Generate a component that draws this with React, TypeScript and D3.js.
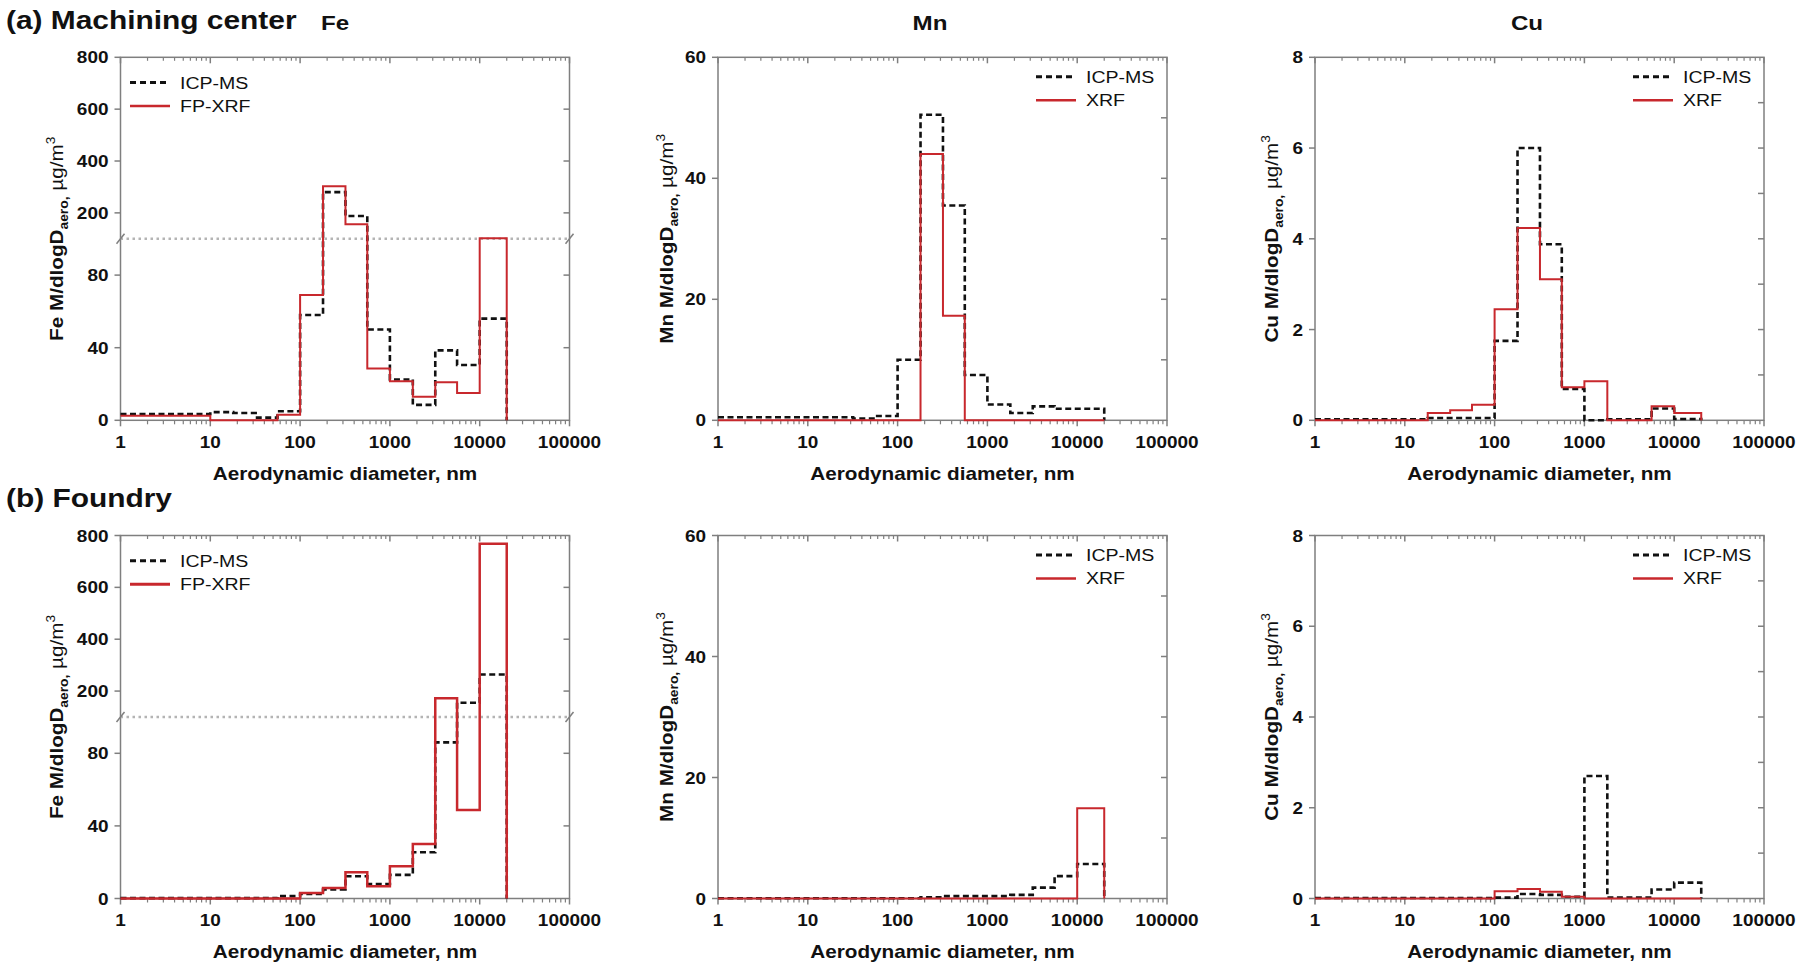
import React from "react";
import * as d3 from "d3";

// stage cut points, nm (last stage ends at 20000)
const edges = [1, 10, 18, 32, 56, 100, 180, 320, 560, 1000, 1800, 3200, 5600, 10000, 20000];

// (a) Machining center
const feA_icp = [3.5, 4.5, 4, 1.5, 5, 58, 280, 188, 50, 22.5, 8.5, 38.5, 30.5, 56];
const feA_xrf = [2.5, 0, 0, 0, 3, 69, 303, 156, 28.5, 21.5, 13, 21, 15, 102];
const mnA_icp = [0.5, 0.5, 0.5, 0.3, 0.7, 10, 50.5, 35.5, 7.5, 2.6, 1.2, 2.3, 1.9, 1.9];
const mnA_xrf = [0, 0, 0, 0, 0, 0, 44, 17.3, 0, 0, 0, 0, 0, 0];
const cuA_icp = [0.02, 0.02, 0.05, 0.05, 0.05, 1.75, 6.0, 3.88, 0.69, 0, 0.02, 0.02, 0.26, 0.03];
const cuA_xrf = [0, 0, 0.16, 0.22, 0.34, 2.45, 4.24, 3.11, 0.73, 0.86, 0, 0, 0.31, 0.16];

// (b) Foundry
const feB_icp = [0.2, 0.2, 0.2, 0.3, 1.3, 2.5, 5, 12.3, 8, 13, 25.5, 86, 155, 264];
const feB_xrf = [0, 0, 0, 0, 0, 3, 5.8, 14.5, 6.8, 17.8, 30, 172, 48.7, 768];
const mnB_icp = [0.05, 0.05, 0.05, 0.05, 0.05, 0.05, 0.2, 0.4, 0.4, 0.4, 0.6, 1.8, 3.7, 5.7];
const mnB_xrf = [0, 0, 0, 0, 0, 0, 0, 0, 0, 0, 0, 0, 0, 14.9];
const cuB_icp = [0.01, 0.01, 0.01, 0.01, 0.01, 0.02, 0.1, 0.08, 0.04, 2.7, 0.02, 0.02, 0.2, 0.35];
const cuB_xrf = [0, 0, 0, 0, 0, 0.16, 0.21, 0.15, 0.04, 0, 0, 0, 0, 0];

const xTicks = [1, 10, 100, 1000, 10000, 100000];
const feTicks = [0, 40, 80, 200, 400, 600, 800];
const feRight = [40, 80, 200, 400, 600];
const mnTicks = [0, 20, 40, 60];
const mnRight = [10, 20, 30, 40, 50];
const cuTicks = [0, 2, 4, 6, 8];
const cuRight = [1, 2, 3, 4, 5, 6, 7];

const FONT = "'Liberation Sans', Arial, sans-serif";
const SX = 1.15; // reference text is a bit wide
const RED = "#c8282d";
const GRAY = "#7f7f7f";
const W = 449;
const H = 363;

function T({ x, y, size, weight = "bold", anchor = "start", rotate = 0, children }: any) {
  return (
    <text
      transform={`translate(${x},${y}) rotate(${rotate}) scale(${SX},1)`}
      fontSize={size}
      fontWeight={weight}
      textAnchor={anchor}
      fontFamily={FONT}
      fill="#111"
    >
      {children}
    </text>
  );
}

type PanelProps = {
  x0: number;
  y0: number;
  el: string;
  kind: "fe" | "mn" | "cu";
  icp: number[];
  xrf: number[];
  xrfName: string;
  labelOff: number;
  redWidth: number;
};

function Panel({ x0, y0, el, kind, icp, xrf, xrfName, labelOff, redWidth }: PanelProps) {
  const x = d3.scaleLog().domain([1, 100000]).range([0, W]);
  const y =
    kind === "fe"
      ? d3.scaleLinear().domain([0, 100, 800]).range([H, H / 2, 0])
      : d3.scaleLinear().domain([0, kind === "mn" ? 60 : 8]).range([H, 0]);
  const ticks = kind === "fe" ? feTicks : kind === "mn" ? mnTicks : cuTicks;
  const right = kind === "fe" ? feRight : kind === "mn" ? mnRight : cuRight;

  const minor: number[] = [];
  for (let d = 1; d < 100000; d *= 10) for (let k = 2; k < 10; k++) minor.push(d * k);

  const step = (vals: number[]) => {
    const pts: [number, number][] = edges.map((e, i) => [x(e), y(i < vals.length ? vals[i] : 0)]);
    return d3.line().curve(d3.curveStepAfter)(pts) || "";
  };

  const legLeft = kind === "fe";
  const lx = legLeft ? 9.5 : 318;
  const ly = legLeft ? 25.3 : 19.4;

  return (
    <g transform={`translate(${x0},${y0})`}>
      {/* frame */}
      <rect x={0} y={0} width={W} height={H} fill="none" stroke={GRAY} strokeWidth={1.5} />
      {/* x ticks */}
      {xTicks.map((t) => (
        <g key={"xt" + t}>
          <line x1={x(t)} x2={x(t)} y1={H} y2={H + 6} stroke={GRAY} strokeWidth={1.5} />
          <line x1={x(t)} x2={x(t)} y1={0} y2={6} stroke={GRAY} strokeWidth={1.5} />
          <T x={x(t)} y={H + 27.5} size={16.5} anchor="middle">{t}</T>
        </g>
      ))}
      {minor.map((t) => (
        <g key={"xm" + t}>
          <line x1={x(t)} x2={x(t)} y1={H} y2={H + 4} stroke={GRAY} strokeWidth={1.2} />
          <line x1={x(t)} x2={x(t)} y1={0} y2={3.5} stroke={GRAY} strokeWidth={1.2} />
        </g>
      ))}
      {/* y ticks */}
      {ticks.map((t) => (
        <g key={"yt" + t}>
          <line x1={-6} x2={0} y1={y(t)} y2={y(t)} stroke={GRAY} strokeWidth={1.5} />
          <T x={-12} y={y(t) + 6} size={16.5} anchor="end">{t}</T>
        </g>
      ))}
      {right.map((t) => (
        <line key={"yr" + t} x1={W - 6} x2={W} y1={y(t)} y2={y(t)} stroke={GRAY} strokeWidth={1.5} />
      ))}
      {/* axis break */}
      {kind === "fe" && (
        <g>
          <line x1={0} x2={W} y1={y(100)} y2={y(100)} stroke="#b4b4b4" strokeWidth={2.5} strokeDasharray="2.5,3.5" />
          <line x1={-4} x2={4} y1={y(100) + 5} y2={y(100) - 5} stroke={GRAY} strokeWidth={1.5} />
          <line x1={W - 4} x2={W + 4} y1={y(100) + 5} y2={y(100) - 5} stroke={GRAY} strokeWidth={1.5} />
        </g>
      )}
      {/* data */}
      <path d={step(icp)} fill="none" stroke="#111" strokeWidth={2.6} strokeDasharray="6,3.5" />
      <path d={step(xrf)} fill="none" stroke={RED} strokeWidth={redWidth} />
      {/* legend */}
      <line x1={lx} x2={lx + 40} y1={ly} y2={ly} stroke="#111" strokeWidth={3} strokeDasharray="6,4" />
      <T x={lx + 50} y={ly + 6} size={17} weight="normal">ICP-MS</T>
      <line x1={lx} x2={lx + 40} y1={ly + 23.5} y2={ly + 23.5} stroke={RED} strokeWidth={redWidth + 0.5} />
      <T x={lx + 50} y={ly + 29.5} size={17} weight="normal">{xrfName}</T>
      {/* axis titles */}
      <T x={W / 2} y={H + 59.5} size={18} anchor="middle">Aerodynamic diameter, nm</T>
      <T x={-labelOff} y={H / 2} size={18} anchor="middle" rotate={-90}>
        <tspan>{el} M/dlogD</tspan>
        <tspan fontSize={12} dy={5}>aero,</tspan>
        <tspan fontWeight="normal" dy={-5}> µg/m</tspan>
        <tspan fontWeight="normal" fontSize={12} dy={-8}>3</tspan>
      </T>
    </g>
  );
}

export default function App() {
  const xs = [120.5, 718, 1315];
  const ya = 57.3;
  const yb = 535.5;
  return (
    <div>
      <style>{`body{margin:0;background:#fff}`}</style>
      <svg width={1800} height={970} style={{ display: "block" }}>
        <rect width={1800} height={970} fill="#fff" />
        <T x={6} y={29} size={26}>(a) Machining center</T>
        <T x={335} y={30} size={21} anchor="middle">Fe</T>
        <T x={930} y={30} size={21} anchor="middle">Mn</T>
        <T x={1527} y={30} size={21} anchor="middle">Cu</T>
        <T x={6} y={507} size={26}>(b) Foundry</T>

        <Panel x0={xs[0]} y0={ya} el="Fe" kind="fe" icp={feA_icp} xrf={feA_xrf} xrfName="FP-XRF" labelOff={57.5} redWidth={2} />
        <Panel x0={xs[1]} y0={ya} el="Mn" kind="mn" icp={mnA_icp} xrf={mnA_xrf} xrfName="XRF" labelOff={45} redWidth={2} />
        <Panel x0={xs[2]} y0={ya} el="Cu" kind="cu" icp={cuA_icp} xrf={cuA_xrf} xrfName="XRF" labelOff={37} redWidth={2} />

        <Panel x0={xs[0]} y0={yb} el="Fe" kind="fe" icp={feB_icp} xrf={feB_xrf} xrfName="FP-XRF" labelOff={57.5} redWidth={2.5} />
        <Panel x0={xs[1]} y0={yb} el="Mn" kind="mn" icp={mnB_icp} xrf={mnB_xrf} xrfName="XRF" labelOff={45} redWidth={2} />
        <Panel x0={xs[2]} y0={yb} el="Cu" kind="cu" icp={cuB_icp} xrf={cuB_xrf} xrfName="XRF" labelOff={37} redWidth={2} />
      </svg>
    </div>
  );
}
